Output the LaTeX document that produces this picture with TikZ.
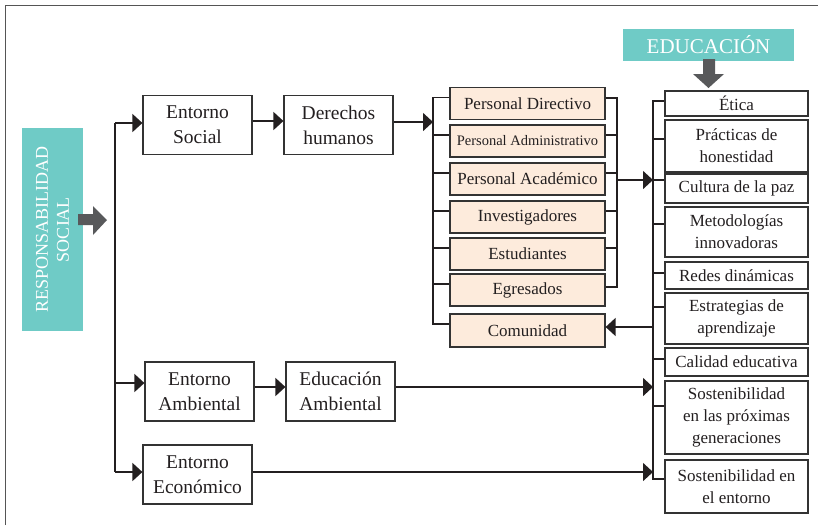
\documentclass[tikz,border=0pt]{standalone}
\usepackage{fontspec}
\setmainfont{Liberation Serif}
\usetikzlibrary{arrows.meta,calc}
\definecolor{tealbox}{HTML}{6FCBC6}
\definecolor{peach}{HTML}{FDEBDC}
\definecolor{boxc}{HTML}{333333}
\definecolor{linec}{HTML}{231F20}
\definecolor{txt}{HTML}{231F20}
\definecolor{garrow}{HTML}{58595B}
\definecolor{framec}{HTML}{555555}
\tikzset{
  box/.style={draw=boxc, line width=1.2pt, fill=white, inner sep=0pt, align=center, text=txt},
  bigbox/.style={box, minimum width=109pt, minimum height=59pt, font=\fontsize{19.5}{25}\selectfont},
  pbox/.style={box, fill=peach, minimum width=155pt, minimum height=32pt, font=\fontsize{17}{21}\selectfont},
  ebox/.style={box, minimum width=143pt, font=\fontsize{17}{22}\selectfont},
  tbox/.style={fill=tealbox, inner sep=0pt, align=center, text=white},
  conn/.style={draw=linec, line width=1.6pt},
  arr/.style={conn, -{Triangle[length=10pt,width=18pt]}},
  gshape/.style={fill=garrow}
}
\begin{document}
\begin{tikzpicture}[x=1pt,y=-1pt]
\useasboundingbox (0,0) rectangle (818,525);
% frame
\draw[framec, line width=1pt] (5,525) -- (5,5) -- (818,5);

% teal boxes
\node[tbox, minimum width=61pt, minimum height=203pt] (rs) at (52.5,229.5) {};
\node[rotate=90, text=white, align=center, font=\fontsize{18}{21}\selectfont] (rst) at (rs.center) {RESPONSABILIDAD\\SOCIAL};
\node[tbox, minimum width=171pt, minimum height=32pt, font=\fontsize{21}{24}\selectfont] (educ) at (708.5,45) {EDUCACIÓN};

% grey arrows
\fill[gshape] (78,214) -- (93,214) -- (93,206) -- (107,220) -- (93,235) -- (93,225) -- (78,225) -- cycle;
\fill[gshape] (703,59) -- (715,59) -- (715,74) -- (724,74) -- (708.5,88) -- (693,74) -- (703,74) -- cycle;

% left boxes
\node[bigbox] (es) at (197.5,125) {Entorno\\Social};
\node[bigbox] (dh) at (338.5,125) {Derechos\\humanos};
\node[bigbox] (ea) at (199.5,391.5) {Entorno\\Ambiental};
\node[bigbox] (edA) at (340.5,391.5) {Educación\\Ambiental};
\node[bigbox] (ee) at (197.5,474.5) {Entorno\\Económico};

% peach boxes
\node[pbox] (pd) at (527.5,103.5) {Personal Directivo};
\node[pbox, font=\fontsize{14.5}{17}\selectfont] (pa) at (527.5,141) {Personal Administrativo};
\node[pbox] (pac) at (527.5,179) {Personal Académico};
\node[pbox] (inv) at (527.5,217) {Investigadores};
\node[pbox] (est) at (527.5,254) {Estudiantes};
\node[pbox] (egr) at (527.5,290) {Egresados};
\node[pbox, minimum height=33pt] (com) at (527.5,330.5) {Comunidad};

% education boxes
\node[ebox, minimum height=25pt] (etica) at (736.5,103.5) {Ética};
\node[ebox, minimum height=52pt] (prac) at (736.5,146) {Prácticas de\\honestidad};
\node[ebox, minimum height=29pt] (cult) at (736.5,188.5) {Cultura de la paz};
\node[ebox, minimum height=50pt] (met) at (736.5,232) {Metodologías\\innovadoras};
\node[ebox, minimum height=27pt] (redes) at (736.5,275.5) {Redes dinámicas};
\node[ebox, minimum height=51pt] (estr) at (736.5,318.5) {Estrategias de\\aprendizaje};
\node[ebox, minimum height=28pt] (cal) at (736.5,362) {Calidad educativa};
\node[ebox, minimum height=73pt] (sostp) at (736.5,417.5) {Sostenibilidad\\en las próximas\\generaciones};
\node[ebox, minimum height=53pt] (soste) at (736.5,486.5) {Sostenibilidad en\\el entorno};

% bracket x positions
\coordinate (trunk) at (115,0);
\coordinate (lb) at (433,0);
\coordinate (rb) at (617,0);
\coordinate (eb) at (653,0);

% trunk
\draw[conn] ($(trunk |- es.west)+(0,-2)$) -- ($(trunk |- ee.west)+(0,-2.5)$);
\draw[arr] ($(trunk |- es.west)+(0,-2)$) -- ($(es.west)+(0,-2)$);
\draw[arr] ($(trunk |- ea.west)+(0,-8.5)$) -- ($(ea.west)+(0,-8.5)$);
\draw[arr] ($(trunk |- ee.west)+(0,-2.5)$) -- ($(ee.west)+(0,-2.5)$);

% horizontal chains
\draw[arr] ($(es.east)+(0,-4)$) -- ($(dh.west)+(0,-4)$);
\draw[arr] ($(dh.east)+(0,-3)$) -- ($(lb |- dh.east)+(0,-3)$);
\draw[arr] ($(ea.east)+(0,-4.5)$) -- ($(edA.west)+(0,-4.5)$);
\draw[arr] ($(edA.east)+(0,-4.5)$) -- ($(eb |- edA.east)+(0,-4.5)$);
\draw[arr] ($(ee.east)+(0,-2.5)$) -- ($(eb |- ee.east)+(0,-2.5)$);

% peach left bracket
\draw[conn] ($(pd.west)+(0,-6)$) -| ($(lb |- com.west)+(0,-6.5)$) -- ($(com.west)+(0,-6.5)$);
\foreach \n in {pa,pac,inv,est,egr}
  \draw[conn] ($(lb |- \n.west)+(0,-6)$) -- ($(\n.west)+(0,-6)$);

% peach right bracket
\draw[conn] ($(pd.east)+(0,-5.5)$) -| ($(rb |- egr.east)+(0,-3)$) -- ($(egr.east)+(0,-3)$);
\foreach \n in {pa,pac,inv,est}
  \draw[conn] ($(rb |- \n.east)+(0,-6)$) -- ($(\n.east)+(0,-6)$);
\draw[arr] ($(rb |- cult.west)+(0,-8.5)$) -- ($(eb |- cult.west)+(0,-8.5)$);

% education bracket
\draw[conn] ($(etica.west)+(0,-2.5)$) -| ($(eb |- soste.west)+(0,-7.5)$) -- ($(soste.west)+(0,-7.5)$);
\foreach \n/\o in {prac/-7, cult/-8.5, met/-8, redes/-2.5, estr/-11.5, cal/-3, sostp/-11.5}
  \draw[conn] ($(eb |- \n.west)+(0,\o)$) -- ($(\n.west)+(0,\o)$);
\draw[arr] ($(eb |- com.east)+(0,-3.5)$) -- ($(com.east)+(0,-3.5)$);
\end{tikzpicture}
\end{document}
